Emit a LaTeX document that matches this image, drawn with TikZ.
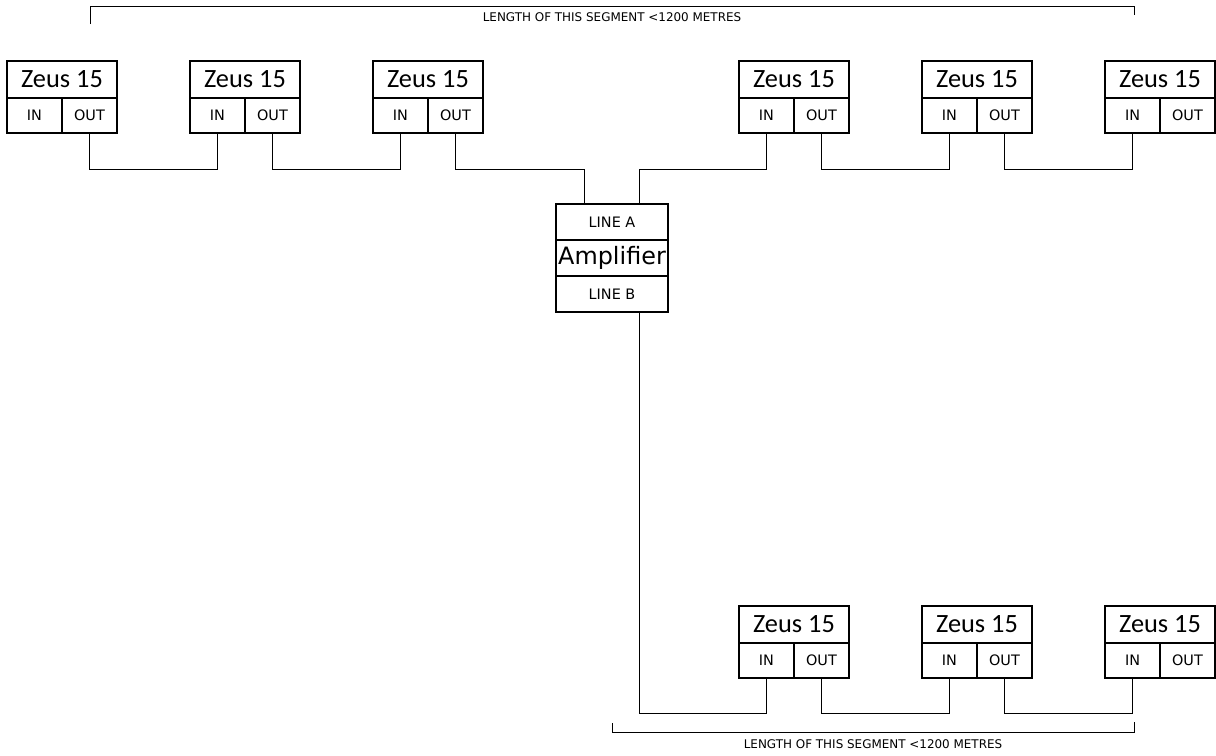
\documentclass[tikz,border=0pt]{standalone}
\usepackage{fontspec}
\setmainfont{DejaVu Sans}
\newfontfamily\zeusfont{Carlito}

\tikzset{
  head/.style={draw, line width=1.1pt, inner sep=0pt, outer sep=0pt, minimum width=2.2cm, minimum height=0.74cm, font=\zeusfont\fontsize{15}{17}\selectfont},
  port/.style={draw, line width=1.1pt, inner sep=0pt, outer sep=0pt, minimum width=1.1cm, minimum height=0.7cm, font=\fontsize{8.2}{10}\selectfont},
  amppart/.style={draw, line width=1.1pt, inner sep=0pt, outer sep=0pt, minimum width=2.24cm, minimum height=0.72cm},
  wire/.style={line width=0.5pt},
  note/.style={font=\fontsize{6.8}{8}\selectfont}
}

\begin{document}
\begin{tikzpicture}[x=0.02cm, y=-0.02cm]
    \useasboundingbox (0,0) rectangle (1216,755);

    % the Zeus 15 units
    \foreach \n/\x/\y in {t1/7/61, t2/190/61, t3/373/61, t4/739/61, t5/922/61, t6/1105/61,
                          b1/739/606, b2/922/606, b3/1105/606} {
        \node[head, anchor=north west] (\n) at (\x,\y) {Zeus 15};
        \node[port, anchor=north west] (\n-in) at (\n.south west) {IN};
        \node[port, anchor=north east] (\n-out) at (\n.south east) {OUT};
    }

    % amplifier
    \node[amppart, anchor=north, font=\fontsize{8.2}{10}\selectfont] (amp-a) at (612,204) {LINE A};
    \node[amppart, anchor=north, font=\fontsize{13.6}{15}\selectfont] (amp) at (amp-a.south) {Amplifier};
    \node[amppart, anchor=north, font=\fontsize{8.2}{10}\selectfont] (amp-b) at (amp.south) {LINE B};

    % line A, left side
    \draw[wire] (t1-out.south) -- ++(0,36) -| (t2-in.south);
    \draw[wire] (t2-out.south) -- ++(0,36) -| (t3-in.south);
    \draw[wire] (t3-out.south) -- ++(0,36) -| ([xshift=-0.56cm]amp-a.north);
    % line A, right side
    \draw[wire] (t4-in.south) -- ++(0,36) -| ([xshift=0.54cm]amp-a.north);
    \draw[wire] (t4-out.south) -- ++(0,36) -| (t5-in.south);
    \draw[wire] (t5-out.south) -- ++(0,36) -| (t6-in.south);
    % line B
    \draw[wire] (b1-in.south) -- ++(0,35) -| ([xshift=0.54cm]amp-b.south);
    \draw[wire] (b1-out.south) -- ++(0,35) -| (b2-in.south);
    \draw[wire] (b2-out.south) -- ++(0,35) -| (b3-in.south);

    % segment lengths
    \draw[wire] (90,24) -- (90,6) -- (1134,6) -- (1134,15);
    \node[note] (top-len) at (612,17) {LENGTH OF THIS SEGMENT <1200 METRES};
    \draw[wire] (612,723) -- (612,732) -- (1134,732) -- (1134,722);
    \node[note] (bot-len) at (873,744) {LENGTH OF THIS SEGMENT <1200 METRES};

\end{tikzpicture}
\end{document}
